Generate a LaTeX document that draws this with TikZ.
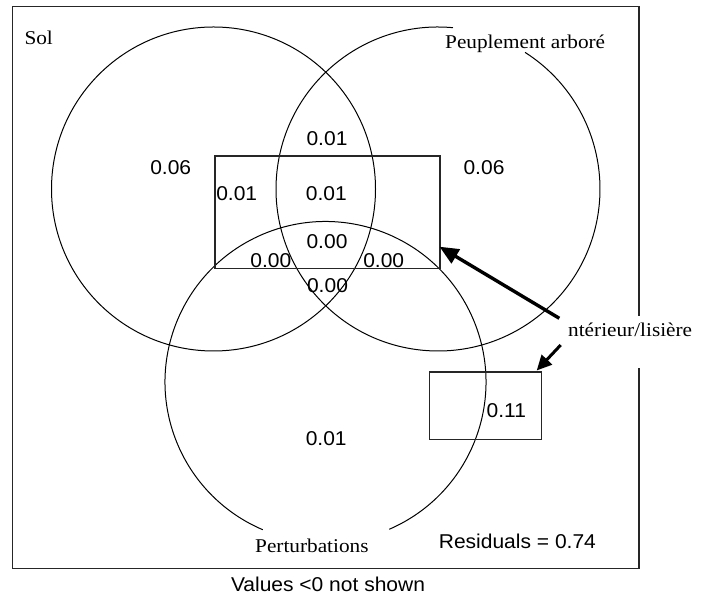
\documentclass[tikz,border=0pt]{standalone}
\usepackage{fontspec}
\newfontfamily\arialf[FakeStretch=1.05]{Liberation Sans}
\newfontfamily\timesf[FakeStretch=1.09]{Liberation Serif}
\usetikzlibrary{arrows.meta}
\begin{document}
\begin{tikzpicture}[x=1pt,y=1pt,
  num/.style={font=\arialf\fontsize{20}{24}\selectfont, inner sep=0pt, anchor=base},
  lab/.style={font=\timesf\fontsize{19.5}{23}\selectfont, inner sep=0pt, anchor=base west},
  ln/.style={draw=black, line width=1pt},
  boxline/.style={draw=black!85, line width=1.2pt},
  bigarrow/.style={line width=3.4pt, -{Triangle[length=19pt,width=16pt]}},
  smallarrow/.style={line width=3pt, -{Triangle[length=15pt,width=14pt]}}
]
\useasboundingbox (0,0) rectangle (709,596);
% outer frame (gap at right edge for label)
\draw[boxline] (639,280) -- (639,589.3) -- (12.3,589.3) -- (12.3,27.7) -- (639,27.7) -- (639,228);
% circles
\draw[ln] (213.5,407) circle[radius=162pt];
\draw[ln] (438,407) ++(84.7:162pt) arc[start angle=84.7, end angle=417.5, radius=162pt];
\draw[ln] (325.5,214) ++(293.4:160.5pt) arc[start angle=293.4, end angle=607, radius=160.5pt];
% rectangles
\node[boxline, anchor=south west, inner sep=0pt, minimum width=225pt, minimum height=112.3pt] (r1) at (214.3,327) {};
\node[boxline, anchor=south west, inner sep=0pt, minimum width=112pt, minimum height=67.3pt] (r2) at (429,156) {};
% labels
\node[lab] (sol) at (24.3,551.7) {Sol};
\node[lab] (peup) at (445,547.7) {Peuplement arboré};
\node[lab] (pert) at (255,43) {Perturbations};
\node[lab] (inter) at (568,259) {ntérieur/lisière};
% arrows
\coordinate (a1s) at (559.3,277.7);
\coordinate (a1e) at (439.5,349.3);
\coordinate (a2s) at (560.7,251);
\coordinate (a2e) at (536.7,225.5);
\draw[bigarrow] (a1s) -- (a1e);
\draw[smallarrow] (a2s) -- (a2e);
% values
\node[num] (v1) at (170.7,421.7) {0.06};
\node[num] (v2) at (327,450.3) {0.01};
\node[num] (v3) at (484,421.7) {0.06};
\node[num] (v4) at (236.7,395) {0.01};
\node[num] (v5) at (326.3,395) {0.01};
\node[num] (v6) at (327,347.7) {0.00};
\node[num] (v7) at (270.8,328.3) {0.00};
\node[num] (v8) at (383.7,328.3) {0.00};
\node[num] (v9) at (327.5,303.3) {0.00};
\node[num] (v10) at (326.2,150) {0.01};
\node[num] (v11) at (506.3,178.7) {0.11};
\node[num] (res) at (517.4,47.7) {Residuals = 0.74};
\node[num] (note) at (328,4.3) {Values <0 not shown};
\end{tikzpicture}
\end{document}
